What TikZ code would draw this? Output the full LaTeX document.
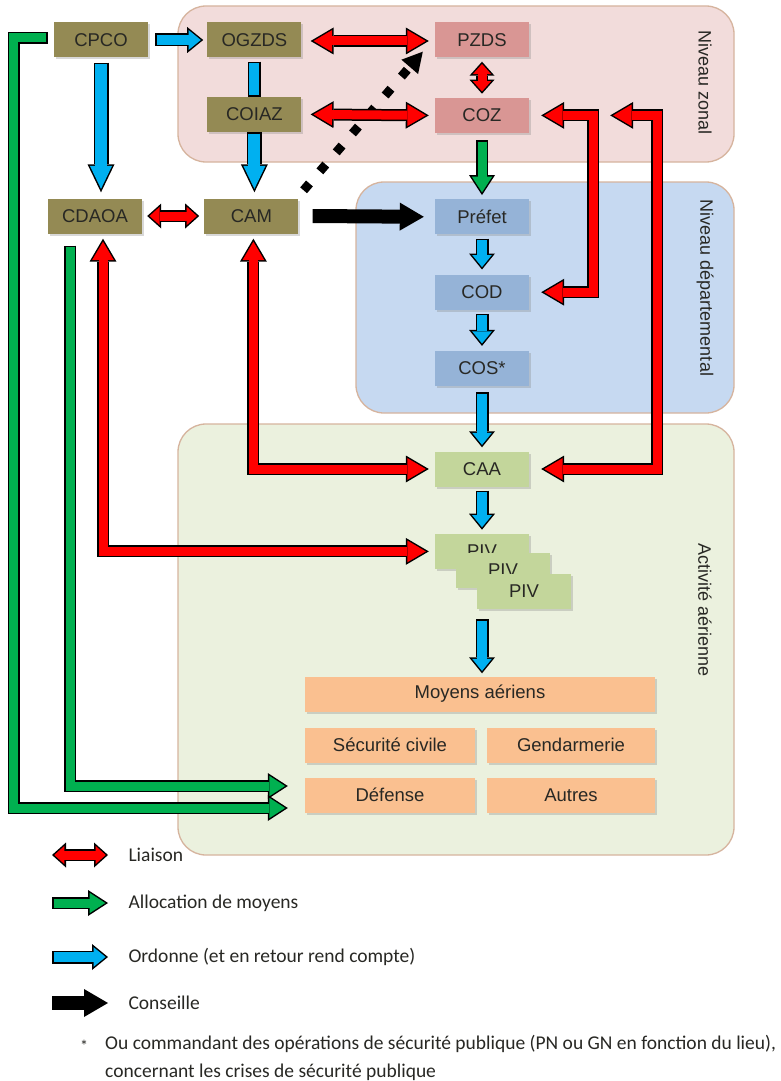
\documentclass[tikz,border=0pt]{standalone}
\usepackage{fontspec}
\setmainfont{Liberation Sans}
\newfontfamily\legendefont{Carlito}
\usetikzlibrary{arrows.meta, calc, positioning, shadows}

\definecolor{Rouge}{RGB}{255,0,0}
\definecolor{Vert}{RGB}{0,176,80}
\definecolor{Bleu}{RGB}{0,176,240}
\definecolor{Olive}{RGB}{148,138,84}
\definecolor{Rose}{RGB}{217,150,148}
\definecolor{BleuBoite}{RGB}{149,179,215}
\definecolor{VertBoite}{RGB}{195,214,155}
\definecolor{Orange}{RGB}{250,192,144}
\definecolor{FondZonal}{RGB}{242,220,219}
\definecolor{FondDep}{RGB}{198,217,241}
\definecolor{FondAct}{RGB}{235,241,222}
\definecolor{Bord}{RGB}{214,180,158}
\definecolor{Texte}{RGB}{40,40,36}

\tikzstyle{region} = [rounded corners=28pt, draw=Bord, line width=1.3pt]
\tikzstyle{etiquette} = [rotate=-90, text=Texte, font=\fontsize{18}{20}\selectfont]
\tikzstyle{boite} = [rectangle, minimum width=94pt, minimum height=35pt, inner sep=0pt, text=Texte, font=\fontsize{18.5}{21}\selectfont, drop shadow={shadow xshift=2pt, shadow yshift=-2pt, opacity=0.3}]
\tikzstyle{legende} = [anchor=west, text=Texte, font=\legendefont\fontsize{19.5}{22}\selectfont]
% fleches epaisses : trait noir dessous, trait colore dessus
\tikzstyle{liaison} = [draw=Rouge, line width=9pt, {Triangle[length=18.5pt,width=21.8pt,line width=0pt]}-{Triangle[length=18.5pt,width=21.8pt,line width=0pt]}, shorten <=2.96pt, shorten >=2.96pt, preaction={draw=black, line width=12pt, {Triangle[length=23pt,width=27pt,line width=0pt]}-{Triangle[length=23pt,width=27pt,line width=0pt]}, shorten <=0pt, shorten >=0pt}]
\tikzstyle{liaisoncourte} = [draw=Rouge, line width=9pt, {Triangle[length=10.2pt,width=18.3pt,line width=0pt]}-{Triangle[length=10.2pt,width=18.3pt,line width=0pt]}, shorten <=2.26pt, shorten >=2.26pt, preaction={draw=black, line width=12pt, {Triangle[length=14pt,width=25pt,line width=0pt]}-{Triangle[length=14pt,width=25pt,line width=0pt]}, shorten <=0pt, shorten >=0pt}]
\tikzstyle{ordre} = [draw=Bleu, line width=10pt, -{Triangle[length=12.1pt,width=19.7pt,line width=0pt]}, shorten <=1.5pt, shorten >=2.38pt, preaction={draw=black, line width=13pt, -{Triangle[length=16pt,width=26pt,line width=0pt]}, shorten <=0pt, shorten >=0pt}]
\tikzstyle{ordrelong} = [draw=Bleu, line width=12pt, -{Triangle[length=23pt,width=22.2pt,line width=0pt]}, shorten <=1.5pt, shorten >=3.46pt, preaction={draw=black, line width=15pt, -{Triangle[length=28pt,width=27pt,line width=0pt]}, shorten <=0pt, shorten >=0pt}]
\tikzstyle{ordretrait} = [draw=Bleu, line width=10pt, shorten <=1.5pt, shorten >=1.5pt, preaction={draw=black, line width=13pt, shorten <=0pt, shorten >=0pt}]
\tikzstyle{allocation} = [draw=Vert, line width=9pt, -{Triangle[length=15.75pt,width=20.5pt,line width=0pt]}, shorten <=1.5pt, shorten >=2.75pt, preaction={draw=black, line width=12pt, -{Triangle[length=20pt,width=26pt,line width=0pt]}, shorten <=0pt, shorten >=0pt}]
\tikzstyle{conseil} = [draw=black, line width=14pt, -{Triangle[length=24pt,width=28pt,line width=0pt]}]
\tikzstyle{pointille} = [draw=black, line width=9pt, dash pattern=on 9pt off 16pt, -{Triangle[length=20pt,width=22pt,line width=0pt]}]

\begin{document}
\begin{tikzpicture}[x=1pt, y=-1pt, node distance=40pt]
	\path[use as bounding box, fill=white] (0,0) rectangle (781,1081);
	% zones
	\draw[region, fill=FondZonal] (178,6) rectangle (734,162);
	\draw[region, fill=FondDep] (356,182) rectangle (734,413);
	\draw[region, fill=FondAct] (178,424) rectangle (734,855);
	\node (Zonal) [etiquette] at (705,83) {Niveau zonal};
	\node (Departemental) [etiquette] at (705,288) {Niveau départemental};
	\node (Aerienne) [etiquette] at (705,610) {Activité aérienne};
	% boites
	\node (CPCO) [boite, fill=Olive] at (101,40) {CPCO};
	\node (OGZDS) [boite, fill=Olive, right = 59pt of CPCO] {OGZDS};
	\node (COIAZ) [boite, fill=Olive, below = 39pt of OGZDS] {COIAZ};
	\node (CDAOA) [boite, fill=Olive] at (95,216) {CDAOA};
	\node (CAM) [boite, fill=Olive, right = 62pt of CDAOA] {CAM};
	\node (PZDS) [boite, fill=Rose] at (482,40) {PZDS};
	\node (COZ) [boite, fill=Rose, below = of PZDS] {COZ};
	\node (Prefet) [boite, fill=BleuBoite, below = 66pt of COZ] {Préfet};
	\node (COD) [boite, fill=BleuBoite, below = of Prefet] {COD};
	\node (COS) [boite, fill=BleuBoite, below = 41pt of COD] {COS*};
	\node (CAA) [boite, fill=VertBoite, below = 65pt of COS] {CAA};
	\node (PIV1) [boite, fill=VertBoite, below = 47pt of CAA] {PIV};
	\node (PIV2) [boite, fill=VertBoite] at ($(PIV1)+(21,19)$) {PIV};
	\node (PIV3) [boite, fill=VertBoite] at ($(PIV2)+(21,21)$) {PIV};
	\node (Moyens) [boite, fill=Orange, minimum width=350pt] at (480,694) {Moyens aériens};
	\node (Securite) [boite, fill=Orange, minimum width=170pt] at (390,745) {Sécurité civile};
	\node (Gendarmerie) [boite, fill=Orange, minimum width=168pt] at (571,745) {Gendarmerie};
	\node (Defense) [boite, fill=Orange, minimum width=170pt] at (390,795) {Défense};
	\node (Autres) [boite, fill=Orange, minimum width=168pt] at (571,795) {Autres};
	% fleches
	\draw [pointille] ($(CAM.north east)+(5,-8)$) -- ($(PZDS.south west)+(-12,-6)$);
	\draw [ordre] ($(CPCO.east)+(7,0)$) -- ($(OGZDS.west)+(-4,0)$);
	\draw [ordrelong] ($(CPCO.south)+(0,5)$) -- ($(CPCO.south |- CDAOA.north)+(0,-6)$);
	\draw [ordretrait] ($(OGZDS.south)+(0,4)$) -- (COIAZ.north);
	\draw [ordrelong] (COIAZ.south) -- ($(COIAZ.south |- CAM.north)+(0,-6)$);
	\draw [liaison] ($(OGZDS.east)+(9,1)$) -- ($(PZDS.west)+(-6,1)$);
	\draw [liaison] ($(COIAZ.east)+(9,0)$) -- ($(COZ.west)+(-6,0)$);
	\draw [liaisoncourte] ($(PZDS.south)+(0,4)$) -- ($(COZ.north)+(0,-4)$);
	\draw [allocation] ($(COZ.south)+(0,7)$) -- ($(Prefet.north)+(0,-4)$);
	\draw [liaisoncourte] ($(CDAOA.east)+(5,0)$) -- ($(CAM.west)+(-5,0)$);
	\draw [conseil] ($(CAM.east)+(14,0)$) -- ($(Prefet.west)+(-11,0)$);
	\draw [ordre] ($(Prefet.south)+(0,4)$) -- ($(COD.north)+(0,-5)$);
	\draw [ordre] ($(COD.south)+(0,4)$) -- ($(COS.north)+(0,-5)$);
	\draw [ordre] ($(COS.south)+(0,6)$) -- ($(CAA.north)+(0,-4)$);
	\draw [ordre] ($(CAA.south)+(0,4)$) -- ($(PIV1.north)+(0,-4)$);
	\draw [ordre] ($(CAA.south |- PIV3.south)+(0,10)$) -- ($(CAA.south |- Moyens.north)+(0,-3)$);
	\draw [liaison] ($(COZ.east)+(12,0)$) -- ++(52,0) |- ($(COD.east)+(12,0)$);
	\draw [liaison] ($(COZ.east)+(81,0)$) -- ++(47,0) |- ($(CAA.east)+(12,0)$);
	\draw [liaison] ($(CAM.south)+(2,5)$) |- ($(CAA.west)+(-6,0)$);
	\draw [liaison] ($(CDAOA.south)+(8,5)$) |- ($(PIV1.west)+(-6,0)$);
	\draw [allocation] ($(CDAOA.south)+(-25,12)$) |- ($(Defense.west)+(-17,-9)$);
	\draw [allocation] ($(CPCO.west)+(-6,-2)$) -- ++(-34,0) |- ($(Defense.west)+(-17,13)$);
	% legende
	\node (Liaison) [legende] at (125,855) {Liaison};
	\node (Allocation) [legende] at (125,903) {Allocation de moyens};
	\node (Ordonne) [legende] at (125,957) {Ordonne (et en retour rend compte)};
	\node (Conseille) [legende] at (125,1003) {Conseille};
	\draw [liaisoncourte] ($(Liaison.west)+(-73,0)$) -- ($(Liaison.west)+(-17,0)$);
	\draw [allocation] ($(Allocation.west)+(-73,0)$) -- ($(Allocation.west)+(-17,0)$);
	\draw [ordre] ($(Ordonne.west)+(-73,0)$) -- ($(Ordonne.west)+(-17,0)$);
	\draw [conseil] ($(Conseille.west)+(-73,0)$) -- ($(Conseille.west)+(-17,0)$);
	\node (Etoile) [text=Texte, font=\legendefont\fontsize{16}{18}\selectfont] at (84,1046) {*};
	\node (Note) [anchor=north west, align=left, inner sep=0pt, text=Texte, font=\legendefont\fontsize{19.5}{28}\selectfont] at (105,1035) {Ou commandant des opérations de sécurité publique (PN ou GN en fonction du lieu),\\concernant les crises de sécurité publique};
\end{tikzpicture}
\end{document}
